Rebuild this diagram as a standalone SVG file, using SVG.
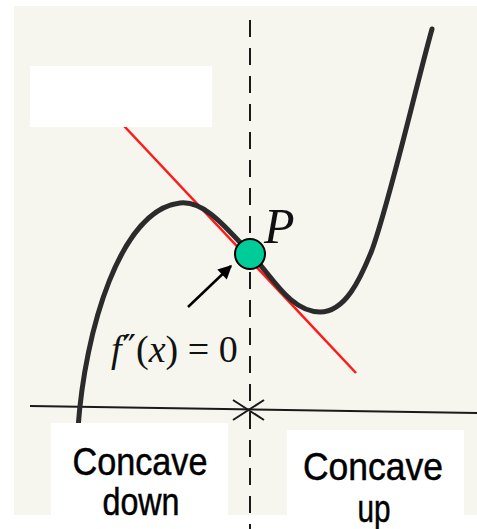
<svg xmlns="http://www.w3.org/2000/svg" width="477" height="529" viewBox="0 0 477 529">
  <defs>
    <style>
      .curve { fill: none; stroke: #2b2b2b; stroke-width: 5; stroke-linecap: round; stroke-linejoin: round; }
      .tangent { stroke: #ff1a1a; stroke-width: 2.5; }
      .axis { stroke: #1a1a1a; stroke-width: 2; fill: none; }
      .dash { stroke: #1a1a1a; stroke-width: 2; stroke-dasharray: 17 11; }
      .box { fill: #ffffff; }
      .math { font-family: "Liberation Serif", "Times New Roman", serif; fill: #111; }
      .label { font-family: "Liberation Sans", Arial, sans-serif; font-size: 39px; fill: #000; stroke: #000; stroke-width: 0.5; text-anchor: middle; }
    </style>
    <marker id="arrowhead" viewBox="0 0 10 10" refX="9" refY="5" markerWidth="6" markerHeight="5.5" orient="auto" markerUnits="strokeWidth">
      <path d="M0,0 L10,5 L0,10 z" fill="#000"/>
    </marker>
  </defs>

  <rect x="0" y="0" width="477" height="529" fill="#ffffff"/>
  <rect x="14" y="6" width="463" height="509" fill="#f6f5ee"/>

  <g id="axes">
    <line class="axis" x1="30" y1="406" x2="477" y2="413"/>
    <line class="dash" x1="250" y1="20" x2="250" y2="529"/>
    <path class="axis" d="M233,400 L264,420 M233,420 L264,400"/>
  </g>

  <g id="tangent">
    <line class="tangent" x1="110" y1="111" x2="356" y2="373"/>
  </g>

  <g id="curve">
    <path class="curve" d="M78,428 C85,330 120,210 180,203 C205,200 228,230 250,253 C272,276 290,312 320,312 C345,312 360,280 372,250 C390,200 415,90 432,29"/>
  </g>

  <g id="connectors">
    <line x1="188" y1="307" x2="231" y2="266" stroke="#000" stroke-width="2.5" marker-end="url(#arrowhead)"/>
  </g>

  <g id="point-P">
    <circle cx="250" cy="254" r="15" fill="#00cc99" stroke="#000" stroke-width="2"/>
    <text class="math" x="264" y="243" font-size="50" font-style="italic">P</text>
  </g>

  <g id="condition">
    <text class="math" x="111" y="362" font-size="38"><tspan font-style="italic">f</tspan><tspan font-family="DejaVu Sans, sans-serif" font-size="36" dx="1" dy="-2">″</tspan><tspan dy="2">(</tspan><tspan font-style="italic">x</tspan><tspan>) = 0</tspan></text>
  </g>

  <g id="title-box">
    <rect class="box" x="30" y="66" width="182" height="61"/>
  </g>

  <g id="concave-down">
    <rect class="box" x="51" y="423" width="177" height="106"/>
    <text class="label" x="140" y="475" textLength="135" lengthAdjust="spacingAndGlyphs">Concave</text>
    <text class="label" x="141" y="515" textLength="77" lengthAdjust="spacingAndGlyphs">down</text>
  </g>

  <g id="concave-up">
    <rect class="box" x="287" y="430" width="177" height="99"/>
    <text class="label" x="373" y="480" textLength="140" lengthAdjust="spacingAndGlyphs">Concave</text>
    <text class="label" x="374" y="522" textLength="33" lengthAdjust="spacingAndGlyphs">up</text>
  </g>
</svg>
